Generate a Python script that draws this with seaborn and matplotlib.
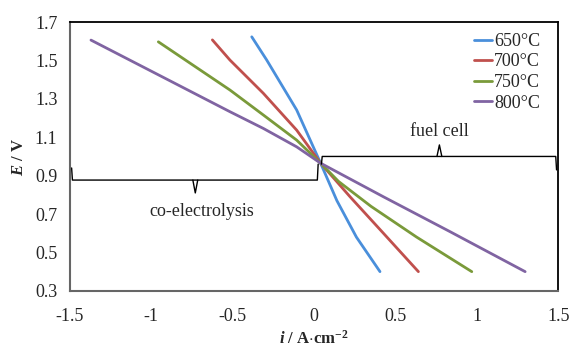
import pandas as pd
import matplotlib
matplotlib.use("Agg")
import matplotlib.pyplot as plt
import seaborn as sns

# =============================================================================
# Data
# =============================================================================

temps = ['650°C', '700°C', '750°C', '800°C']

i_650 = [-0.383, -0.291, -0.107, 0.04, 0.14, 0.26, 0.405]
E_650 = [1.623, 1.502, 1.242, 0.965, 0.77, 0.58, 0.40]

i_700 = [-0.625, -0.517, -0.312, -0.107, 0.04, 0.221, 0.426, 0.641]
E_700 = [1.607, 1.502, 1.329, 1.137, 0.965, 0.79, 0.60, 0.40]

i_750 = [-0.957, -0.517, -0.312, -0.107, 0.04, 0.15, 0.35, 0.63, 0.969]
E_750 = [1.597, 1.346, 1.216, 1.085, 0.965, 0.87, 0.74, 0.58, 0.40]

i_800 = [-1.371, -0.517, -0.312, -0.107, 0.04, 0.426, 0.836, 1.297]
E_800 = [1.606, 1.233, 1.146, 1.05, 0.965, 0.79, 0.608, 0.40]

colors = ['#4A8FDB', '#C0504D', '#7A9A3A', '#8064A2']

rows = []
for t, xs, ys in zip(temps, [i_650, i_700, i_750, i_800], [E_650, E_700, E_750, E_800]):
    for x, y in zip(xs, ys):
        rows.append({'i': x, 'E': y, 'T': t})
df = pd.DataFrame(rows)

# =============================================================================
# Plot
# =============================================================================

sns.set_style("white")
plt.rcParams['font.family'] = ['Liberation Serif', 'DejaVu Serif']
plt.rcParams['mathtext.fontset'] = 'custom'
plt.rcParams['mathtext.rm'] = 'Liberation Serif:bold'
plt.rcParams['mathtext.it'] = 'Liberation Serif:bold:italic'

fig = plt.figure(figsize=(5.69, 3.5), dpi=100)
ax = fig.add_axes([0.123, 0.169, 0.858, 0.768])

sns.lineplot(data=df, x='i', y='E', hue='T', hue_order=temps, palette=colors,
             sort=False, estimator=None, lw=2, ax=ax)

ax.set_xlim(-1.5, 1.5)
ax.set_ylim(0.3, 1.7)
ax.set_xticks([-1.5, -1, -0.5, 0, 0.5, 1, 1.5])
ax.set_xticklabels(['-1.5', '-1', '-0.5', '0', '0.5', '1', '1.5'])
ax.set_yticks([0.3, 0.5, 0.7, 0.9, 1.1, 1.3, 1.5, 1.7])
ax.tick_params(axis='x', direction='in', length=3, color='#999999', labelsize=13, pad=12)
ax.tick_params(axis='y', length=0, labelsize=13, pad=9)

for side in ['left', 'bottom']:
    ax.spines[side].set_color('#666666')
    ax.spines[side].set_linewidth(1.5)
for side in ['top', 'right']:
    ax.spines[side].set_color('black')
    ax.spines[side].set_linewidth(1.3)

ax.set_xlabel(r'$i\ /\ \mathrm{A{\cdot}cm^{-2}}$', fontsize=12, labelpad=4)
ax.set_ylabel(r'$E\ /\ \mathrm{V}$', fontsize=12, labelpad=6)

# brackets
k = dict(color='black', lw=1)
ax.plot([-1.49, -1.485, 0.02, 0.025], [0.94, 0.877, 0.877, 0.96], **k)
ax.plot([-0.745, -0.73, -0.715], [0.877, 0.81, 0.877], **k)
ax.text(-0.69, 0.712, 'co-electrolysis', ha='center', va='center', fontsize=13)

ax.plot([0.045, 0.05, 1.485, 1.49], [0.96, 1.0, 1.0, 0.93], **k)
ax.plot([0.755, 0.77, 0.785], [1.0, 1.06, 1.0], **k)
ax.text(0.77, 1.13, 'fuel cell', ha='center', va='center', fontsize=13)

ax.legend(title='', frameon=False, loc='upper right', fontsize=13,
          handlelength=1.0, handletextpad=0.1, labelspacing=0.2,
          borderaxespad=0.2, bbox_to_anchor=(0.985, 1.0))

fig.savefig('out.png', dpi=100)
